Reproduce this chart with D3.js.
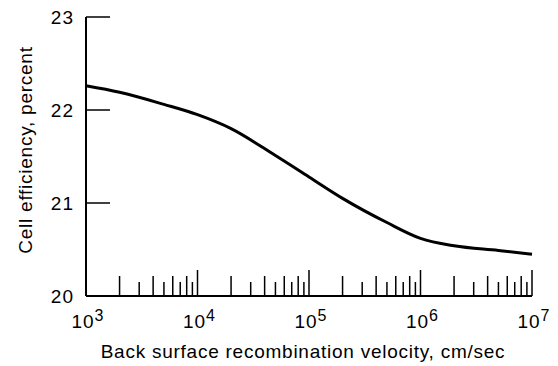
<!DOCTYPE html>
<html>
<head>
<meta charset="utf-8">
<script src="https://cdn.jsdelivr.net/npm/d3@7"></script>
<style>
  body { margin: 0; background: #fff; }
  text { font-family: "Liberation Sans", Arial, sans-serif; fill: #000; }
</style>
</head>
<body>
<svg id="chart" width="558" height="366"></svg>
<script>
// back surface recombination velocity (cm/sec) and cell efficiency (%)
const velocity = [1e3, 2e3, 5e3, 1e4, 2e4, 5e4, 1e5, 2e5, 5e5, 1e6, 2e6, 5e6, 1e7];
const efficiency = [22.26, 22.19, 22.06, 21.95, 21.80, 21.51, 21.28, 21.05, 20.79, 20.62, 20.54, 20.49, 20.45];
const yTicks = [21, 22, 23];
const yLabels = [20, 21, 22, 23];
const xDecades = [3, 4, 5, 6, 7];

const plotLeft = 86, plotRight = 532, plotTop = 17, plotBottom = 296;

const x = d3.scaleLog().domain([1e3, 1e7]).range([plotLeft, plotRight]);
const y = d3.scaleLinear().domain([20, 23]).range([plotBottom, plotTop]);

const svg = d3.select('#chart');

// axis lines
svg.append('line')
    .attr('x1', plotLeft).attr('x2', plotLeft)
    .attr('y1', y(23)).attr('y2', y(20))
    .style('stroke', 'black').style('stroke-width', 2);
svg.append('line')
    .attr('x1', plotLeft).attr('x2', plotRight)
    .attr('y1', y(20)).attr('y2', y(20))
    .style('stroke', 'black').style('stroke-width', 2);

// y ticks point inward
svg.selectAll('.ytick')
    .data(yTicks)
    .enter()
    .append('line')
    .attr('class', 'ytick')
    .attr('x1', plotLeft).attr('x2', plotLeft + 24)
    .attr('y1', d => y(d)).attr('y2', d => y(d))
    .style('stroke', 'black').style('stroke-width', 1.5);

svg.selectAll('.ylab')
    .data(yLabels)
    .enter()
    .append('text')
    .attr('class', 'ylab')
    .attr('x', 74)
    .attr('y', d => y(d))
    .attr('dy', '0.36em')
    .attr('text-anchor', 'end')
    .style('font-size', '19px')
    .style('letter-spacing', '1px')
    .text(d => d);

// x ticks: majors tall, even multiples medium, odd short
let xTicks = [];
xDecades.forEach(e => {
    if (e > 3) xTicks.push({v: Math.pow(10, e), h: 26});
    if (e < 7) d3.range(2, 10).forEach(m =>
        xTicks.push({v: m * Math.pow(10, e), h: m % 2 ? 14 : 20}));
});
svg.selectAll('.xtick')
    .data(xTicks)
    .enter()
    .append('line')
    .attr('class', 'xtick')
    .attr('x1', d => x(d.v)).attr('x2', d => x(d.v))
    .attr('y1', y(20)).attr('y2', d => y(20) - d.h)
    .style('stroke', 'black').style('stroke-width', 1.5);

let xl = svg.selectAll('.xlab')
    .data(xDecades)
    .enter()
    .append('text')
    .attr('class', 'xlab')
    .attr('x', d => x(Math.pow(10, d)) + 2)
    .attr('y', 328)
    .attr('text-anchor', 'middle')
    .style('font-size', '19px')
    .style('letter-spacing', '1px');
xl.append('tspan').text('10');
xl.append('tspan')
    .attr('dy', '-7')
    .style('font-size', '16px')
    .text(d => d);

// axis titles
svg.append('text')
    .attr('x', 303).attr('y', 358)
    .attr('text-anchor', 'middle')
    .style('font-size', '19px')
    .style('letter-spacing', '0.75px')
    .text('Back surface recombination velocity, cm/sec');
svg.append('text')
    .attr('transform', 'translate(32,150) rotate(-90)')
    .attr('text-anchor', 'middle')
    .style('font-size', '19px')
    .style('letter-spacing', '0.75px')
    .text('Cell efficiency, percent');

// efficiency curve
const line = d3.line()
    .x(d => x(d[0]))
    .y(d => y(d[1]))
    .curve(d3.curveMonotoneX);
svg.append('path')
    .datum(d3.zip(velocity, efficiency))
    .attr('d', line)
    .style('fill', 'none')
    .style('stroke', 'black')
    .style('stroke-width', 3);
</script>
</body>
</html>
